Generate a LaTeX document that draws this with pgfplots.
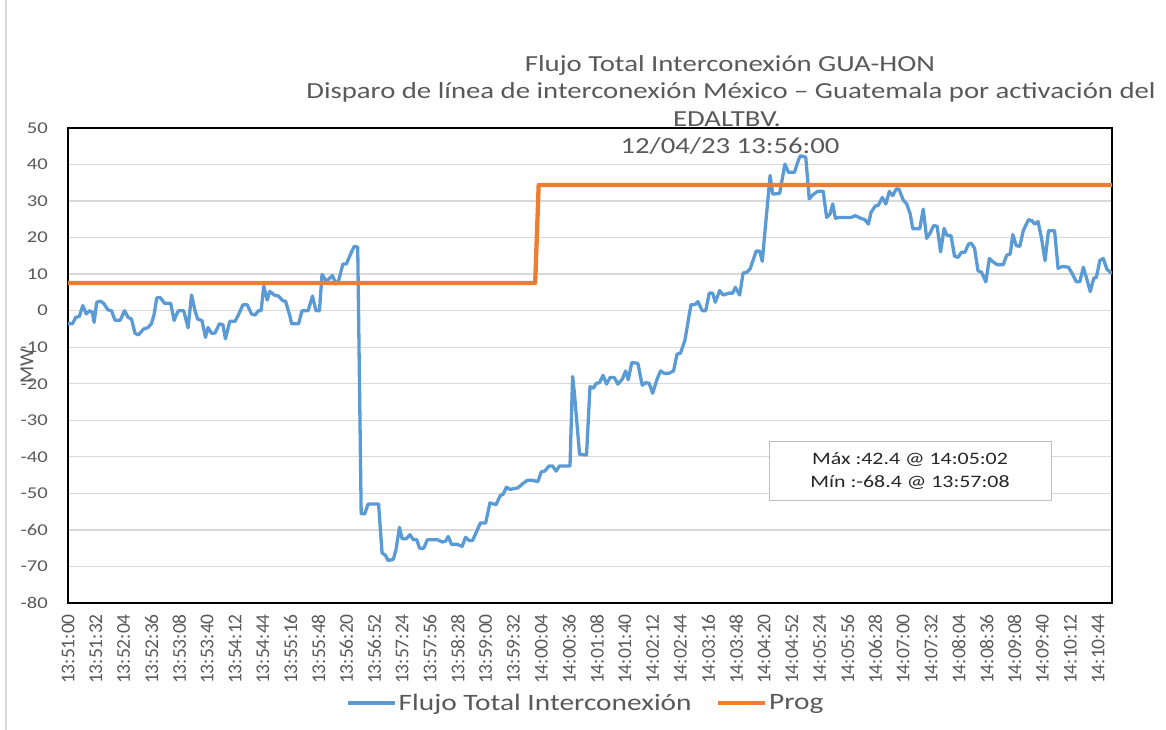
\documentclass[border=0pt]{standalone}
\usepackage{fontspec}
\setmainfont{Carlito}[FakeStretch=1.25]
\newfontfamily\narrowfont{Carlito}
\usepackage{pgfplots}
\pgfplotsset{compat=1.18}
\definecolor{fblue}{HTML}{5B9BD5}
\definecolor{forange}{HTML}{ED7D31}
\definecolor{tgray}{HTML}{595959}
\definecolor{ggray}{HTML}{D9D9D9}
\definecolor{bgray}{HTML}{BFBFBF}
\begin{document}
\begin{tikzpicture}
\useasboundingbox (0,0) rectangle (1166pt,730pt);
\draw[ggray, line width=1.2pt] (6pt,0pt) -- (6pt,730pt);
\begin{axis}[
  at={(68pt,127pt)}, anchor=south west,
  scale only axis, width=1044pt, height=475pt,
  xmin=0, xmax=1200, ymin=-80, ymax=50,
  xtick={0,32,...,1184},
  xticklabels={13:51:00,13:51:32,13:52:04,13:52:36,13:53:08,13:53:40,13:54:12,13:54:44,13:55:16,13:55:48,13:56:20,13:56:52,13:57:24,13:57:56,13:58:28,13:59:00,13:59:32,14:00:04,14:00:36,14:01:08,14:01:40,14:02:12,14:02:44,14:03:16,14:03:48,14:04:20,14:04:52,14:05:24,14:05:56,14:06:28,14:07:00,14:07:32,14:08:04,14:08:36,14:09:08,14:09:40,14:10:12,14:10:44},
  ytick={-80,-70,...,50},
  yticklabels={-80,-70,-60,-50,-40,-30,-20,-10,0,10,20,30,40,50},
  major tick length=0pt,
  ymajorgrids, grid style={ggray, line width=1.3pt},
  axis line style={black, line width=1.5pt},
  xticklabel style={rotate=90, anchor=east, inner sep=0pt, font=\narrowfont\fontsize{19.5}{21}\selectfont, text=tgray},
  xticklabel shift=11pt,
  yticklabel style={anchor=east, inner sep=0pt, font=\fontsize{16.5}{18}\selectfont, text=tgray},
  yticklabel shift=20pt,
  legend style={at={(0.496,-0.2105)}, anchor=center, draw=none, fill=none, legend columns=2,
    font=\fontsize{23.5}{27}\selectfont, text=tgray,
    /tikz/every even column/.append style={column sep=22pt}},
  legend image code/.code={\draw[#1] (0pt,0pt) -- (47pt,0pt);},
]
\addplot[color=fblue, line width=3.3pt, line join=round] coordinates {
(0,-3.6)(5,-3.6)(9,-1.8)(13,-1.6)(17,1.4)(21,-0.9)(25,0.0)(28,-0.5)(30,-3.2)(33,2.3)(37,2.6)(41,2.0)(46,0.2)(50,0.0)(54,-2.6)(60,-2.6)(65,0.0)(69,-1.8)(73,-2.3)(77,-6.2)(81,-6.6)(87,-5.0)(92,-4.6)(96,-3.5)(99,-1.0)(102,3.5)(106,3.6)(111,2.0)(118,2.0)(122,-2.7)(124,-1.4)(127,0.0)(133,0.0)(138,-4.7)(142,4.3)(146,0.0)(149,-2.3)(154,-2.7)(158,-7.3)(161,-4.6)(165,-6.2)(169,-6.1)(174,-3.6)(178,-3.8)(181,-7.7)(186,-2.9)(192,-2.9)(196,-1.1)(201,1.6)(206,1.6)(211,-0.9)(215,-1.2)(219,0.0)(222,0.0)(225,6.8)(229,2.9)(232,5.3)(237,4.3)(242,4.0)(247,2.7)(250,2.6)(255,-1.4)(257,-3.6)(265,-3.6)(269,0.0)(276,0.0)(281,4.0)(285,0.0)(289,0.0)(292,9.9)(297,8.1)(304,9.6)(308,7.3)(311,8.2)(316,12.8)(320,12.8)(325,15.6)(329,17.6)(333,17.4)(337,-55.6)(341,-55.6)(345,-52.9)(357,-52.9)(361,-66.3)(365,-67.0)(368,-68.4)(374,-68.0)(377,-65.4)(381,-59.3)(384,-62.4)(389,-62.4)(393,-61.3)(397,-62.7)(401,-62.7)(404,-65.0)(409,-65.0)(413,-62.7)(425,-62.7)(430,-63.3)(434,-63.1)(437,-61.8)(441,-64.0)(447,-63.9)(453,-64.5)(457,-62.0)(461,-62.9)(465,-62.9)(469,-60.8)(474,-58.1)(480,-58.1)(485,-52.6)(492,-53.1)(497,-50.5)(500,-50.3)(504,-48.3)(508,-48.9)(517,-48.5)(523,-47.3)(528,-46.4)(534,-46.4)(540,-46.8)(544,-44.1)(548,-43.9)(553,-42.5)(557,-42.5)(561,-43.9)(565,-42.5)(577,-42.5)(580,-18.0)(582,-22.4)(588,-39.3)(596,-39.5)(600,-20.8)(604,-21.2)(607,-19.9)(611,-19.7)(615,-17.7)(619,-20.1)(623,-18.3)(628,-18.3)(632,-20.1)(637,-18.8)(641,-16.5)(644,-18.9)(648,-14.2)(655,-14.4)(660,-20.4)(664,-19.7)(668,-19.9)(672,-22.6)(677,-18.8)(681,-16.5)(686,-17.2)(691,-17.1)(696,-16.5)(700,-11.9)(704,-11.6)(709,-8.2)(716,1.6)(721,1.7)(724,2.5)(729,0.0)(733,0.0)(737,4.8)(741,4.8)(744,2.3)(749,5.5)(753,4.3)(760,4.8)(764,4.8)(767,6.4)(772,4.3)(776,10.3)(780,10.5)(784,11.4)(787,13.5)(791,16.3)(795,16.3)(798,13.5)(802,24.0)(807,37.0)(810,31.9)(818,32.1)(824,40.1)(828,37.9)(835,37.9)(840,41.5)(842,42.4)(848,42.0)(852,30.6)(856,31.7)(862,32.7)(868,32.7)(872,25.5)(876,26.5)(879,29.2)(882,25.3)(886,25.5)(900,25.5)(905,26.0)(911,25.3)(916,24.9)(920,23.7)(923,26.9)(928,28.7)(931,28.7)(936,31.0)(940,29.2)(944,32.6)(948,31.5)(952,33.3)(955,33.3)(960,30.3)(964,29.2)(968,26.5)(971,22.4)(979,22.4)(983,27.8)(987,19.8)(991,21.3)(995,23.3)(999,23.1)(1003,16.1)(1007,22.5)(1010,20.7)(1015,20.5)(1019,14.9)(1023,14.6)(1027,16.0)(1031,16.0)(1035,18.2)(1038,18.5)(1042,17.1)(1046,10.9)(1050,10.5)(1055,7.9)(1059,14.3)(1063,13.4)(1068,12.6)(1075,12.6)(1079,15.2)(1083,15.5)(1086,20.8)(1090,17.8)(1094,17.6)(1098,21.9)(1104,24.9)(1108,24.6)(1111,23.7)(1115,24.4)(1119,19.8)(1123,13.7)(1127,21.9)(1134,21.9)(1138,11.6)(1143,12.1)(1150,11.9)(1155,9.8)(1159,7.9)(1163,7.9)(1167,11.9)(1171,8.7)(1175,5.2)(1179,8.9)(1182,9.1)(1186,13.7)(1190,14.3)(1194,11.4)(1198,10.5)(1200,10.3)
};
\addlegendentry{Flujo Total Interconexión}
\addplot[color=forange, line width=4.3pt, line join=round] coordinates {
(0,7.6)(537,7.6)(541,34.4)(1200,34.4)
};
\addlegendentry{Prog}
\end{axis}
\begin{scope}[every node/.style={text=tgray, font=\fontsize{23}{27}\selectfont, inner sep=0pt}]
\node at (730pt,665pt) {Flujo Total Interconexión GUA-HON};
\node at (731pt,638pt) {Disparo de línea de interconexión México – Guatemala por activación del};
\node at (727pt,611pt) {EDALTBV.};
\node at (730pt,584pt) {12/04/23 13:56:00};
\end{scope}
\node[text=tgray, rotate=90, font=\narrowfont\fontsize{20}{24}\selectfont, inner sep=0pt] at (27pt,364pt) {MW};
\node[draw=bgray, line width=1pt, fill=white, minimum width=282pt, minimum height=59pt, align=center,
  font=\fontsize{17.5}{23}\selectfont, text=black!85] at (910pt,259pt) {Máx :42.4 @ 14:05:02\\Mín :-68.4 @ 13:57:08};
\end{tikzpicture}
\end{document}
